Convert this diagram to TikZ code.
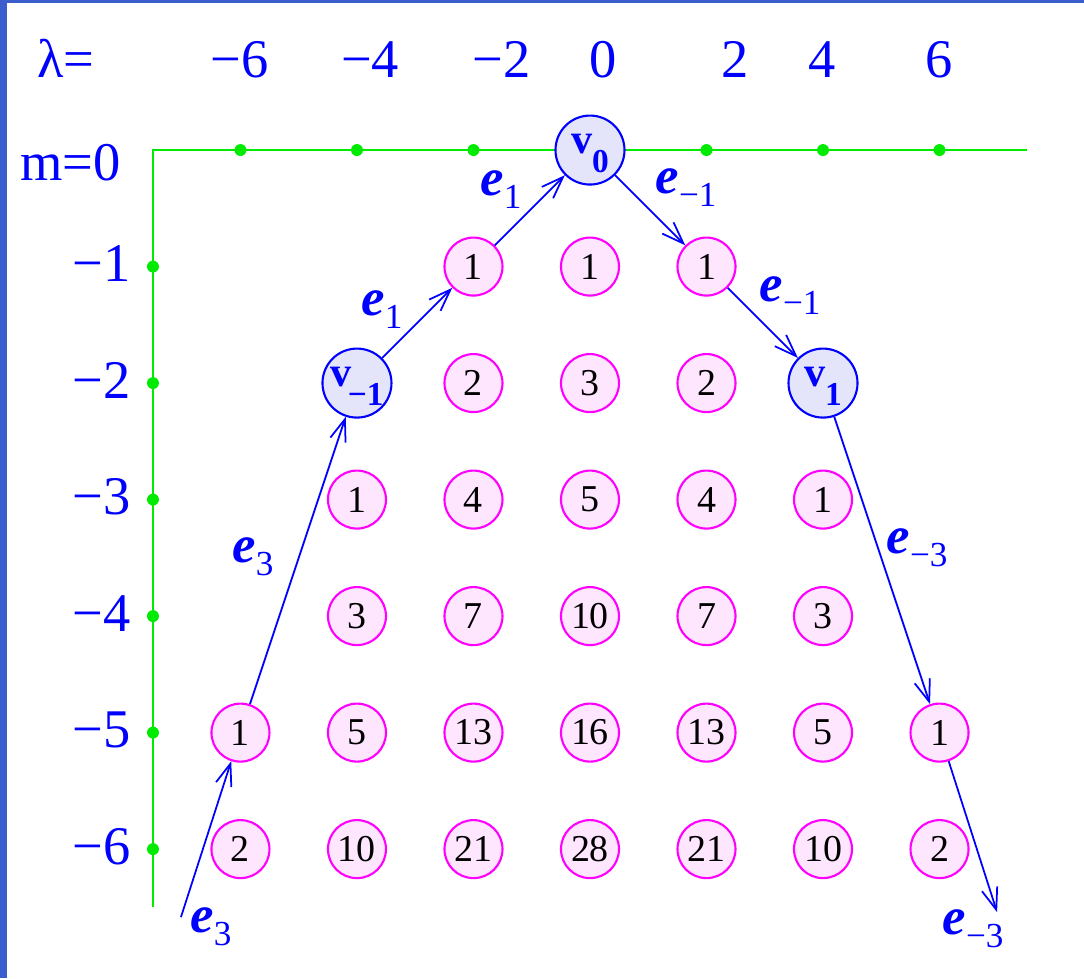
\documentclass[tikz,border=0pt]{standalone}
\usepackage{fontspec}
\setmainfont{Liberation Serif}
\usetikzlibrary{arrows.meta}
\definecolor{frameblue}{RGB}{58,95,205}
\definecolor{pinkfill}{RGB}{255,230,255}
\definecolor{pinkline}{RGB}{255,0,255}
\definecolor{lavfill}{RGB}{228,228,250}
\definecolor{axgreen}{RGB}{0,235,0}
\definecolor{pureblue}{RGB}{0,0,255}

\newcommand{\evec}[1]{\textbf{\textit{e}}\raisebox{-3.7pt}{\fontsize{10}{12}\selectfont #1}}
\newcommand{\vvec}[1]{\smash{\raisebox{-0.9pt}{\textbf{v}\raisebox{-5.5pt}{\fontsize{9.5}{11}\selectfont\bfseries #1}}}}

\begin{document}
\begin{tikzpicture}[
    x=1.165cm, y=1.165cm,
    num/.style={circle, draw=pinkline, fill=pinkfill, line width=0.6pt, minimum size=0.58cm, inner sep=0pt, font=\fontsize{10.8}{12}\selectfont},
    wt/.style={circle, draw=pureblue, fill=lavfill, line width=0.6pt, minimum size=0.69cm, inner sep=0pt, text=pureblue, font=\fontsize{12}{14}\selectfont\bfseries},
    ax/.style={axgreen, line width=0.6pt},
    gdot/.style={fill=axgreen},
    arr/.style={-{Straight Barb[length=2.2mm, width=1.6mm]}, pureblue, line width=0.5pt},
    lab/.style={text=pureblue, inner sep=0pt, font=\fontsize{15.5}{18}\selectfont},
    elab/.style={text=pureblue, inner sep=0pt, font=\fontsize{15}{18}\selectfont},
]
\useasboundingbox (-5.064,1.288) rectangle (4.240,-7.107);
\fill[frameblue] (-5.064,1.288) rectangle (-5.004,-7.107);
\fill[frameblue] (-5.064,1.288) rectangle (4.240,1.258);
% weight axes
\draw[ax] (-3.751,-6.5) -- (-3.751,0) -- (3.751,0);
\foreach \c in {-3,-2,-1,1,2,3} {
  \fill[gdot] (\c,0) circle[radius=1.7pt];
}
\foreach \m in {-1,...,-6} {
  \fill[gdot] (-3.751,\m) circle[radius=1.7pt];
}
\node[lab, anchor=base] (lam) at (-4.498,0.627) {λ=};
\foreach \x/\t [count=\i] in {-3.009/−6, -1.888/−4, -0.760/−2, 0.112/0, 1.245/2, 1.991/4, 2.996/6} {
  \node[lab, anchor=base] (lam\i) at (\x,0.627) {\t};
}
\node[lab, anchor=base] (mzero) at (-4.459,-0.258) {m=0};
\foreach \m/\t in {-1/−1, -2/−2, -3/−3, -4/−4, -5/−5, -6/−6} {
  \node[lab, anchor=base east] (row\m) at (-3.94,\m-0.13) {\t};
}
% multiplicities
\foreach \c/\m/\k in {-1/-1/1, 0/-1/1, 1/-1/1,
    -1/-2/2, 0/-2/3, 1/-2/2,
    -2/-3/1, -1/-3/4, 0/-3/5, 1/-3/4, 2/-3/1,
    -2/-4/3, -1/-4/7, 0/-4/10, 1/-4/7, 2/-4/3,
    -3/-5/1, -2/-5/5, -1/-5/13, 0/-5/16, 1/-5/13, 2/-5/5, 3/-5/1,
    -3/-6/2, -2/-6/10, -1/-6/21, 0/-6/28, 1/-6/21, 2/-6/10, 3/-6/2} {
  \node[num] (n\c\m) at (\c,\m) {\k};
}
\node[wt] (v0) at (0,0) {\vvec{0}};
\node[wt] (vm1) at (-2,-2) {\vvec{\kern-1pt−1}};
\node[wt] (vp1) at (2,-2) {\vvec{1}};
% path of weights
\coordinate (tailL) at (-3.511,-6.584);
\coordinate (headR) at (3.494,-6.541);
\draw[arr] (tailL) -- (n-3-5);
\draw[arr] (n-3-5) -- (vm1);
\draw[arr] (vm1) -- (n-1-1);
\draw[arr] (n-1-1) -- (v0);
\draw[arr] (v0) -- (n1-1);
\draw[arr] (n1-1) -- (vp1);
\draw[arr] (vp1) -- (n3-5);
\draw[arr] (n3-5) -- (headR);
\node[elab] (e1a) at (-0.764,-0.343) {\evec{1}};
\node[elab] (e1b) at (-1.785,-1.373) {\evec{1}};
\node[elab] (e3a) at (-2.893,-3.494) {\evec{3}};
\node[elab] (e3b) at (-3.253,-6.670) {\evec{3}};
\node[elab] (em1a) at (0.824,-0.326) {\evec{−1}};
\node[elab] (em1b) at (1.717,-1.245) {\evec{−1}};
\node[elab] (em3a) at (2.807,-3.416) {\evec{−3}};
\node[elab] (em3b) at (3.288,-6.687) {\evec{−3}};
\end{tikzpicture}
\end{document}
